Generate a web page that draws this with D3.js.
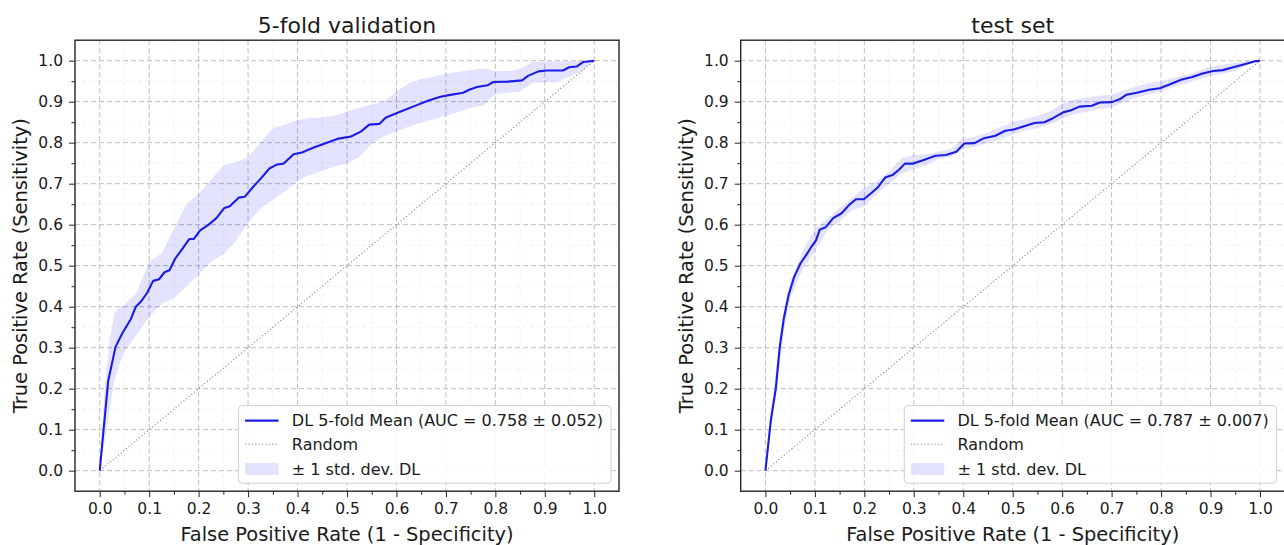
<!DOCTYPE html>
<html>
<head>
<meta charset="utf-8">
<script src="https://cdn.jsdelivr.net/npm/d3@7"></script>
<style>
  html, body { margin: 0; padding: 0; background: #fff; }
  svg { display: block; font-family: "DejaVu Sans", sans-serif; }
</style>
</head>
<body>
<svg id="chart" width="1284" height="545"></svg>
<script>
// ---------------- DATA ----------------
const panelTitles = ["5-fold validation", "test set"];
const xLabel = "False Positive Rate (1 - Specificity)";
const yLabel = "True Positive Rate (Sensitivity)";
const majorTicks = [0, 0.1, 0.2, 0.3, 0.4, 0.5, 0.6, 0.7, 0.8, 0.9, 1.0];
const tickLabels = ["0.0", "0.1", "0.2", "0.3", "0.4", "0.5", "0.6", "0.7", "0.8", "0.9", "1.0"];
const minorTicks = [0.05, 0.15, 0.25, 0.35, 0.45, 0.55, 0.65, 0.75, 0.85, 0.95];
const randomLine = [[0, 0], [1, 1]];

const legendMeanVal = "DL 5-fold Mean (AUC = 0.758 \u00b1 0.052)";
const legendMeanTest = "DL 5-fold Mean (AUC = 0.787 \u00b1 0.007)";
const legendRandom = "Random";
const legendBand = "\u00b1 1 std. dev. DL";

// 5-fold validation mean ROC
const valMeanFpr = [0,0.017,0.032,0.046,0.063,0.073,0.083,0.096,0.108,0.12,0.131,0.141,0.153,0.166,0.181,0.19,0.203,0.219,0.236,0.252,0.263,0.281,0.293,0.31,0.326,0.343,0.359,0.372,0.392,0.409,0.434,0.458,0.483,0.508,0.528,0.545,0.566,0.578,0.59,0.615,0.64,0.665,0.689,0.706,0.735,0.747,0.763,0.784,0.796,0.825,0.854,0.866,0.887,0.904,0.937,0.949,0.965,0.978,1];
const valMeanTpr = [0,0.218,0.302,0.336,0.37,0.40,0.412,0.434,0.463,0.467,0.484,0.489,0.518,0.539,0.565,0.565,0.586,0.599,0.616,0.641,0.645,0.666,0.668,0.692,0.713,0.737,0.747,0.749,0.772,0.776,0.789,0.799,0.81,0.815,0.827,0.844,0.846,0.861,0.867,0.879,0.891,0.903,0.912,0.916,0.922,0.929,0.936,0.94,0.948,0.949,0.952,0.963,0.974,0.976,0.976,0.984,0.986,0.997,1];

// std band grid (shared)
const bandFpr = [0,0.01,0.02,0.03,0.04,0.05,0.075,0.1,0.125,0.15,0.175,0.2,0.225,0.25,0.275,0.3,0.325,0.35,0.375,0.4,0.425,0.45,0.475,0.5,0.525,0.55,0.575,0.6,0.625,0.65,0.675,0.7,0.725,0.75,0.775,0.8,0.825,0.85,0.875,0.9,0.925,0.95,0.975,1];
const valUpper = [0,0.2,0.32,0.385,0.40,0.405,0.435,0.51,0.53,0.59,0.65,0.675,0.71,0.745,0.753,0.765,0.80,0.835,0.845,0.855,0.86,0.862,0.866,0.877,0.885,0.893,0.902,0.925,0.945,0.955,0.961,0.968,0.973,0.977,0.981,0.975,0.975,0.98,0.997,0.998,0.998,0.998,0.999,1];
const valLower = [0,0.07,0.15,0.22,0.26,0.29,0.333,0.375,0.408,0.42,0.45,0.478,0.51,0.527,0.56,0.604,0.64,0.66,0.682,0.708,0.721,0.731,0.742,0.75,0.765,0.798,0.815,0.828,0.838,0.849,0.857,0.866,0.875,0.885,0.89,0.918,0.922,0.925,0.946,0.947,0.948,0.962,0.975,1];

// test set mean ROC
const testMeanFpr = [0,0.011,0.021,0.029,0.037,0.047,0.058,0.071,0.083,0.094,0.102,0.11,0.122,0.137,0.154,0.17,0.183,0.199,0.216,0.228,0.242,0.257,0.27,0.282,0.299,0.32,0.344,0.365,0.386,0.402,0.423,0.44,0.465,0.485,0.502,0.523,0.544,0.564,0.577,0.602,0.618,0.635,0.66,0.676,0.701,0.718,0.73,0.751,0.776,0.797,0.817,0.842,0.863,0.884,0.905,0.925,0.946,0.967,0.992,1];
const testMeanTpr = [0,0.124,0.2,0.302,0.37,0.429,0.472,0.506,0.527,0.548,0.561,0.588,0.594,0.616,0.628,0.649,0.662,0.662,0.679,0.692,0.715,0.721,0.734,0.749,0.749,0.758,0.768,0.77,0.778,0.798,0.799,0.81,0.817,0.829,0.832,0.84,0.848,0.85,0.857,0.874,0.879,0.888,0.89,0.898,0.899,0.907,0.917,0.922,0.929,0.933,0.942,0.954,0.96,0.969,0.975,0.977,0.984,0.991,0.999,1];
const testUpper = [0,0.13,0.23,0.33,0.41,0.46,0.535,0.59,0.615,0.64,0.665,0.69,0.705,0.73,0.762,0.77,0.772,0.778,0.785,0.81,0.815,0.825,0.838,0.85,0.858,0.866,0.876,0.895,0.905,0.91,0.915,0.917,0.928,0.937,0.945,0.95,0.958,0.965,0.975,0.985,0.99,0.995,0.999,1];
const testLower = [0,0.09,0.17,0.27,0.36,0.42,0.49,0.535,0.585,0.608,0.635,0.645,0.675,0.7,0.725,0.735,0.745,0.76,0.765,0.785,0.79,0.8,0.808,0.82,0.83,0.835,0.845,0.858,0.87,0.875,0.882,0.885,0.9,0.91,0.918,0.925,0.935,0.945,0.955,0.963,0.968,0.975,0.99,1];

// ---------------- DRAW ----------------
const svg = d3.select("#chart");
svg.append("rect").attr("width", 1284).attr("height", 545).attr("fill", "#fff");

const LINE_BLUE = "#1c1ce6";
const BAND_FILL = "#0000ff";
const BAND_OPACITY = 0.11;
const TEXT = "#1a1a1a";

const panels = [
  { left: 75, title: panelTitles[0], mFpr: valMeanFpr, mTpr: valMeanTpr, up: valUpper, lo: valLower, legend: legendMeanVal },
  { left: 740.7, title: panelTitles[1], mFpr: testMeanFpr, mTpr: testMeanTpr, up: testUpper, lo: testLower, legend: legendMeanTest }
];

const plotW = 544, plotTop = 40.2, plotBottom = 491.2;

panels.forEach((p, idx) => {
  const x = d3.scaleLinear().domain([-0.05, 1.05]).range([p.left, p.left + plotW]);
  const y = d3.scaleLinear().domain([-0.05, 1.05]).range([plotBottom, plotTop]);
  const g = svg.append("g");
  const clipId = "clip" + idx;
  svg.append("clipPath").attr("id", clipId).append("rect")
    .attr("x", x.range()[0]).attr("y", plotTop).attr("width", plotW).attr("height", plotBottom - plotTop);

  // minor grid (faint)
  const grid = g.append("g");
  minorTicks.forEach(v => {
    grid.append("line").attr("x1", x(v)).attr("x2", x(v)).attr("y1", plotTop).attr("y2", plotBottom)
      .attr("stroke", "#efefef").attr("stroke-width", 0.8).attr("stroke-dasharray", "4,3");
    grid.append("line").attr("y1", y(v)).attr("y2", y(v)).attr("x1", x.range()[0]).attr("x2", x.range()[1])
      .attr("stroke", "#efefef").attr("stroke-width", 0.8).attr("stroke-dasharray", "4,3");
  });
  // major grid
  majorTicks.forEach(v => {
    grid.append("line").attr("x1", x(v)).attr("x2", x(v)).attr("y1", plotTop).attr("y2", plotBottom)
      .attr("stroke", "#bdbdbd").attr("stroke-width", 1).attr("stroke-dasharray", "5,3");
    grid.append("line").attr("y1", y(v)).attr("y2", y(v)).attr("x1", x.range()[0]).attr("x2", x.range()[1])
      .attr("stroke", "#bdbdbd").attr("stroke-width", 1).attr("stroke-dasharray", "5,3");
  });

  const plotG = g.append("g").attr("clip-path", `url(#${clipId})`);

  // std band
  const bandData = bandFpr.map((f, i) => ({ f, u: p.up[i], l: p.lo[i] }));
  plotG.append("path").datum(bandData)
    .attr("d", d3.area().x(d => x(d.f)).y0(d => y(d.l)).y1(d => y(d.u)))
    .attr("fill", BAND_FILL).attr("fill-opacity", BAND_OPACITY).attr("stroke", "none");

  // random
  plotG.append("path").datum(randomLine)
    .attr("d", d3.line().x(d => x(d[0])).y(d => y(d[1])))
    .attr("fill", "none").attr("stroke", "#8c8c8c").attr("stroke-width", 1.1).attr("stroke-dasharray", "1.2,2.2");

  // mean line
  const meanData = p.mFpr.map((f, i) => [f, p.mTpr[i]]);
  plotG.append("path").datum(meanData)
    .attr("d", d3.line().x(d => x(d[0])).y(d => y(d[1])))
    .attr("fill", "none").attr("stroke", LINE_BLUE).attr("stroke-width", 2.1).attr("stroke-linejoin", "round");

  // axes
  const fmt = v => tickLabels[majorTicks.indexOf(v)];
  const xAxis = g.append("g").attr("transform", `translate(0,${plotBottom})`)
    .call(d3.axisBottom(x).tickValues(majorTicks).tickFormat(fmt).tickSize(6).tickPadding(5.5).tickSizeOuter(0));
  const xMinor = g.append("g").attr("transform", `translate(0,${plotBottom})`)
    .call(d3.axisBottom(x).tickValues(minorTicks).tickFormat("").tickSize(3.5).tickSizeOuter(0));
  const yAxis = g.append("g").attr("transform", `translate(${x.range()[0]},0)`)
    .call(d3.axisLeft(y).tickValues(majorTicks).tickFormat(fmt).tickSize(6).tickPadding(6).tickSizeOuter(0));
  const yMinor = g.append("g").attr("transform", `translate(${x.range()[0]},0)`)
    .call(d3.axisLeft(y).tickValues(minorTicks).tickFormat("").tickSize(3.5).tickSizeOuter(0));
  [xAxis, xMinor, yAxis, yMinor].forEach(a => {
    a.select(".domain").remove();
    a.selectAll("line").attr("stroke", "#262626").attr("stroke-width", 1);
    a.selectAll("text").attr("fill", TEXT).style("font-size", "15.5px").style("font-family", "DejaVu Sans");
  });

  // spines
  g.append("rect").attr("x", x.range()[0]).attr("y", plotTop).attr("width", plotW).attr("height", plotBottom - plotTop)
    .attr("fill", "none").attr("stroke", "#262626").attr("stroke-width", 1.4);

  // title & labels
  const cx = (x(0) + x(1)) / 2;
  g.append("text").attr("x", cx).attr("y", 33).attr("text-anchor", "middle")
    .attr("fill", TEXT).style("font-size", "22px").text(p.title);
  g.append("text").attr("x", cx).attr("y", 540.5).attr("text-anchor", "middle")
    .attr("fill", TEXT).style("font-size", "19.4px").text(xLabel);
  const ly = (plotTop + plotBottom) / 2;
  const lx = x.range()[0] - 48;
  g.append("text").attr("transform", `translate(${lx},${ly}) rotate(-90)`).attr("text-anchor", "middle")
    .attr("fill", TEXT).style("font-size", "19.4px").text(yLabel);

  // legend
  const legG = g.append("g");
  const fs = 16;
  const rows = [p.legend, legendRandom, legendBand];
  const texts = rows.map((t, i) => legG.append("text").attr("fill", TEXT).style("font-size", fs + "px").text(t));
  const maxW = d3.max(texts, t => t.node().getComputedTextLength());
  const boxRight = x.range()[1] - 8, boxBottom = plotBottom - 8;
  const boxW = 53.3 + maxW + 8, boxH = 77.6;
  const boxL = boxRight - boxW, boxT = boxBottom - boxH;
  legG.insert("rect", "text").attr("x", boxL).attr("y", boxT).attr("width", boxW).attr("height", boxH)
    .attr("rx", 3.5).attr("fill", "#fff").attr("fill-opacity", 0.85).attr("stroke", "#d0d0d0").attr("stroke-width", 1);
  const rowY = [boxT + 15, boxT + 38.6, boxT + 63.3];
  texts.forEach((t, i) => t.attr("x", boxL + 53.3).attr("y", rowY[i]).attr("dy", "0.36em"));
  const sx0 = boxL + 6.5, sx1 = boxL + 40;
  legG.append("line").attr("x1", sx0).attr("x2", sx1).attr("y1", rowY[0]).attr("y2", rowY[0])
    .attr("stroke", LINE_BLUE).attr("stroke-width", 2.1);
  legG.append("line").attr("x1", sx0).attr("x2", sx1).attr("y1", rowY[1]).attr("y2", rowY[1])
    .attr("stroke", "#8c8c8c").attr("stroke-width", 1.1).attr("stroke-dasharray", "1.2,2.2");
  legG.append("rect").attr("x", sx0).attr("y", rowY[2] - 6).attr("width", sx1 - sx0).attr("height", 12)
    .attr("fill", BAND_FILL).attr("fill-opacity", BAND_OPACITY);
});
</script>
</body>
</html>
